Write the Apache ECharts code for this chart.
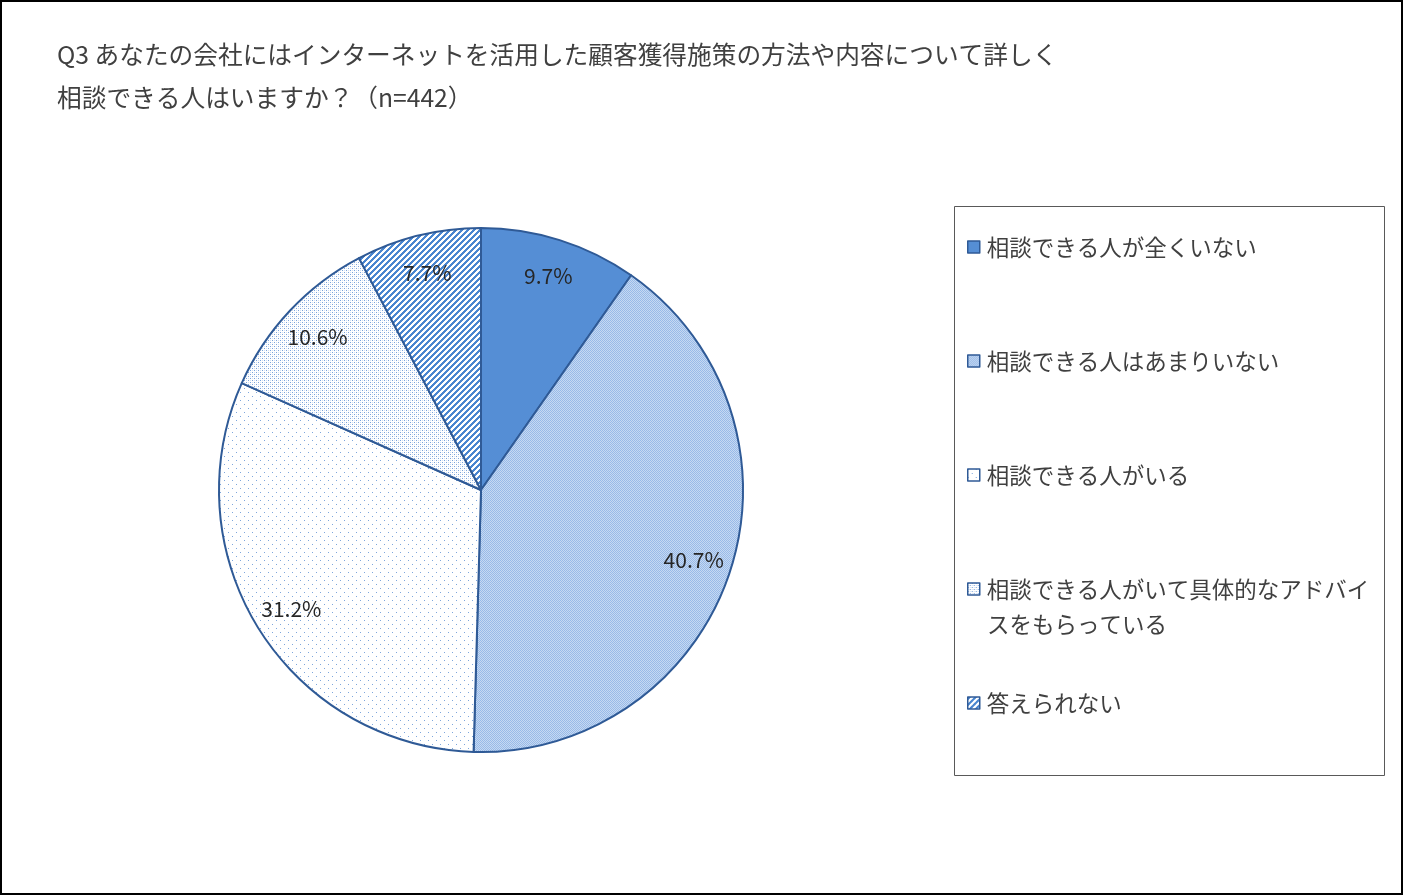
<!DOCTYPE html>
<html>
<head>
<meta charset="utf-8">
<script src="https://cdn.jsdelivr.net/npm/echarts@6/dist/echarts.min.js"></script>
<style>
html,body{margin:0;padding:0;background:#fff;}
#chart{width:1404px;height:896px;}
</style>
</head>
<body>
<div id="chart"></div>
<script>
const titleLines = ['Q3 あなたの会社にはインターネットを活用した顧客獲得施策の方法や内容について詳しく', '相談できる人はいますか？（n=442）'];
const categories = ['相談できる人が全くいない', '相談できる人はあまりいない', '相談できる人がいる', '相談できる人がいて具体的なアドバイスをもらっている', '答えられない'];
const legendLabels = ['相談できる人が全くいない', '相談できる人はあまりいない', '相談できる人がいる', '相談できる人がいて具体的なアドバイ', '答えられない'];
const legendContinuation = ['', '', '', 'スをもらっている', ''];
const values = [9.7, 40.7, 31.2, 10.6, 7.7];

function makePattern(size, draw) {
  const c = document.createElement('canvas');
  c.width = size; c.height = size;
  const ctx = c.getContext('2d');
  draw(ctx, size);
  return { image: c, repeat: 'repeat' };
}
const fills = [
  '#558ED5',
  makePattern(2, (ctx) => {
    ctx.fillStyle = '#C6D9F2'; ctx.fillRect(0, 0, 2, 2);
    ctx.fillStyle = '#98BAE8'; ctx.fillRect(0, 0, 1, 1); ctx.fillRect(1, 1, 1, 1);
  }),
  makePattern(8, (ctx) => {
    ctx.fillStyle = '#ffffff'; ctx.fillRect(0, 0, 8, 8);
    ctx.fillStyle = '#7EA6DC'; ctx.fillRect(0, 0, 1, 1); ctx.fillRect(4, 4, 1, 1);
  }),
  makePattern(4, (ctx) => {
    ctx.fillStyle = '#ffffff'; ctx.fillRect(0, 0, 4, 4);
    ctx.fillStyle = '#7AA3DB'; ctx.fillRect(0, 0, 1, 1); ctx.fillRect(2, 2, 1, 1);
    ctx.fillStyle = '#D3E1F4'; ctx.fillRect(2, 0, 1, 1); ctx.fillRect(0, 2, 1, 1);
  }),
  makePattern(6, (ctx, s) => {
    ctx.fillStyle = '#ffffff'; ctx.fillRect(0, 0, s, s);
    ctx.fillStyle = '#4A86D0';
    for (let x = 0; x < s; x++) for (let y = 0; y < s; y++) if ((x + y) % 6 < 3) ctx.fillRect(x, y, 1, 1);
  })
];

const borderColor = '#2F5A96';
const pieData = categories.map((n, i) => ({
  name: n, value: values[i],
  itemStyle: { color: fills[i], borderColor: borderColor, borderWidth: 2 }
}));
const labelData = categories.map((n, i) => ({ name: n, value: values[i] }));

const legendCenters = [247, 361, 475, 589, 703];
const legendFont = { fontFamily: 'Noto Sans CJK JP', fontSize: 22.5, color: '#404040' };
const legends = categories.map((n, i) => ({
  orient: 'vertical',
  left: 962,
  top: legendCenters[i] - 23.5,
  itemWidth: 12, itemHeight: 12, itemGap: 0,
  icon: 'rect',
  selectedMode: false,
  data: [n],
  formatter: () => legendLabels[i],
  itemStyle: { borderColor: borderColor, borderWidth: 1.5 },
  textStyle: Object.assign({ lineHeight: 37, padding: [0, 0, 0, 2] }, legendFont)
}));

const continuationTexts = legendContinuation.map((t, i) => t ? {
  type: 'text', left: 987, top: legendCenters[i] + 37 - 13, silent: true,
  style: Object.assign({ text: t, fill: legendFont.color, font: legendFont.fontSize + 'px "Noto Sans CJK JP"' })
} : null).filter(Boolean);

const chart = echarts.init(document.getElementById('chart'), null, { renderer: 'canvas' });
chart.setOption({
  animation: false,
  backgroundColor: '#ffffff',
  title: {
    text: titleLines.join('\n'),
    left: 52, top: 28,
    textStyle: { fontFamily: 'Noto Sans CJK JP', fontSize: 24.7, fontWeight: 'normal', color: '#404040', lineHeight: 43 }
  },
  legend: legends,
  graphic: [
    { type: 'rect', shape: { x: 1, y: 1, width: 1401, height: 893 }, style: { fill: 'none', stroke: '#000', lineWidth: 2 }, silent: true },
    { type: 'rect', shape: { x: 954.5, y: 206.5, width: 430, height: 569 }, style: { fill: 'none', stroke: '#595959', lineWidth: 1 }, silent: true }
  ].concat(continuationTexts),
  series: [
    {
      type: 'pie', center: [481, 490], radius: [0, 262], startAngle: 90, clockwise: true,
      label: { show: false }, labelLine: { show: false },
      emphasis: { disabled: true }, silent: true,
      data: pieData
    },
    {
      type: 'pie', center: [481, 490], radius: [180, 262], startAngle: 90, clockwise: true,
      itemStyle: { color: 'rgba(0,0,0,0)', borderWidth: 0 },
      label: {
        show: true, position: 'inside',
        formatter: (p) => p.value.toFixed(1) + '%',
        fontFamily: 'Noto Sans CJK JP', fontSize: 21, color: '#262626'
      },
      labelLine: { show: false },
      emphasis: { disabled: true }, silent: true,
      data: labelData
    }
  ]
});
</script>
</body>
</html>
